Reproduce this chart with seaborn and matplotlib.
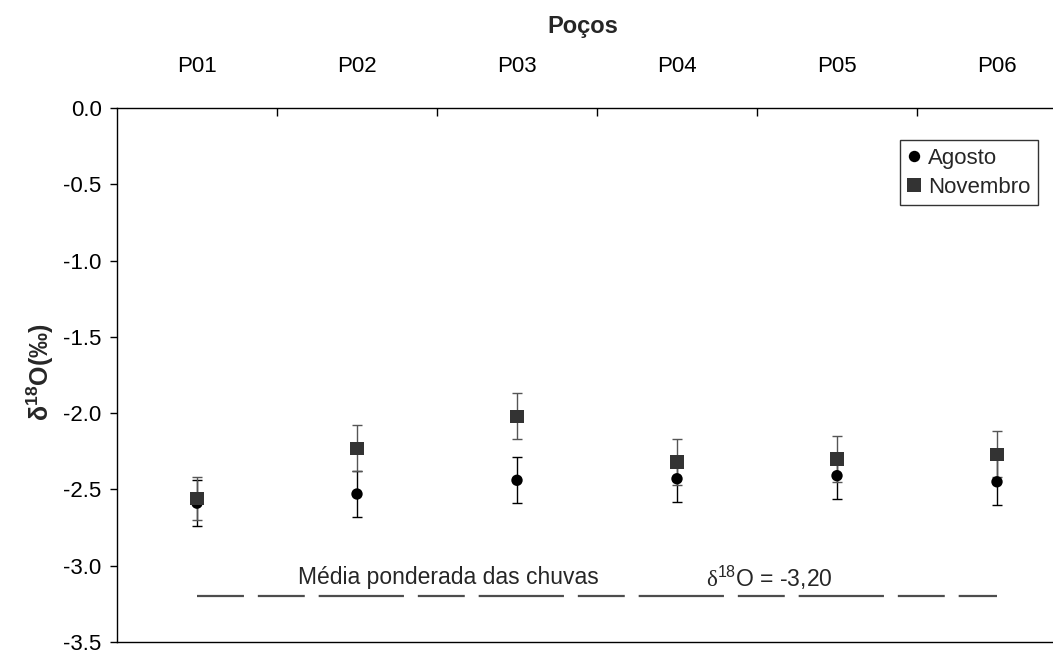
import matplotlib
matplotlib.use("Agg")
import matplotlib.pyplot as plt
from matplotlib.lines import Line2D
import seaborn as sns
import pandas as pd
import numpy as np

# ---- data ----
wells = ["P01", "P02", "P03", "P04", "P05", "P06"]
agosto = [-2.59, -2.53, -2.44, -2.43, -2.41, -2.45]
novembro = [-2.56, -2.23, -2.02, -2.32, -2.30, -2.27]
err_agosto = [0.15, 0.15, 0.15, 0.15, 0.15, 0.15]
err_novembro = [0.14, 0.15, 0.15, 0.15, 0.15, 0.15]
rain_mean = -3.20
yticks = [0.0, -0.5, -1.0, -1.5, -2.0, -2.5, -3.0, -3.5]

sns.set_theme(style="ticks")
plt.rcParams["font.family"] = ["Liberation Sans", "DejaVu Sans"]
plt.rcParams["mathtext.fontset"] = "custom"
plt.rcParams["mathtext.rm"] = "Liberation Sans"
plt.rcParams["mathtext.it"] = "Liberation Sans:italic"
plt.rcParams["mathtext.bf"] = "Liberation Sans:bold"
plt.rcParams["mathtext.cal"] = "Liberation Serif"

fig = plt.figure(figsize=(10.53, 6.5), dpi=100)
ax = fig.add_axes([117 / 1053, 8 / 650, 960 / 1053, 534 / 650])

df = pd.DataFrame({
    "Poço": wells * 2,
    "d18O": agosto + novembro,
    "Mês": ["Agosto"] * len(wells) + ["Novembro"] * len(wells),
})

# rain weighted mean line: dashed segments restarting at each well
for i in range(len(wells) - 1):
    ax.plot([wells[i], wells[i + 1]], [rain_mean, rain_mean], color="#4d4d4d",
            lw=1.6, dashes=(33.8 / 1.6, 10 / 1.6), zorder=1)

ax.errorbar(wells, agosto, yerr=err_agosto, fmt="none", ecolor="black",
            elinewidth=1, capsize=3.6, capthick=1, zorder=2)
ax.errorbar(wells, novembro, yerr=err_novembro, fmt="none", ecolor="#555555",
            elinewidth=1, capsize=3.6, capthick=1, zorder=2)

sns.scatterplot(data=df, x="Poço", y="d18O", hue="Mês", style="Mês",
                markers={"Agosto": "o", "Novembro": "s"},
                palette={"Agosto": "black", "Novembro": "#333333"},
                size="Mês", sizes={"Agosto": 67, "Novembro": 92},
                linewidth=0, edgecolor="none", ax=ax, zorder=3, legend=False)

ax.set_xlim(-0.5, 5.5)
ax.set_ylim(-3.5, 0.0)
ax.set_xlabel("")
ax.set_ylabel("")

# top categorical axis
ax.xaxis.tick_top()
ax.set_xticks(range(len(wells)))
ax.set_xticklabels(wells)
ax.set_xticks(np.arange(0.5, len(wells), 1.0), minor=True)
ax.tick_params(axis="x", which="major", length=0, pad=22, labelsize=16,
               colors="black", top=True, bottom=False)
ax.tick_params(axis="x", which="minor", direction="in", length=6, width=1,
               top=True, bottom=False, color="black")

ax.set_yticks(yticks)
ax.set_yticklabels([f"{v:.1f}" for v in yticks])
ax.tick_params(axis="y", which="major", direction="out", length=5, width=1,
               labelsize=16, colors="black", pad=6)

for s in ax.spines.values():
    s.set_visible(True)
    s.set_color("black")
    s.set_linewidth(1)

ax.text((583 - 117) / 960, (642 - 27) / 534, "Poços", transform=ax.transAxes,
        ha="center", va="center", fontsize=17, fontweight="bold")
ax.text((40 - 117) / 960, (642 - 372) / 534, r"δ$^{\mathbf{18}}$O(‰)",
        transform=ax.transAxes, rotation=90, ha="center", va="center",
        fontsize=18, fontweight="bold")

ax.text(0.63, -3.08, "Média ponderada das chuvas", ha="left", va="center",
        fontsize=16.5)
ax.text(3.18, -3.08, r"$\mathcal{\delta}^{18}$O = -3,20", ha="left",
        va="center", fontsize=16.5)

handles = [
    Line2D([], [], marker="o", ls="none", color="black", markersize=8.2,
           markeredgewidth=0),
    Line2D([], [], marker="s", ls="none", color="#333333", markersize=9.6,
           markeredgewidth=0),
]
leg = ax.legend(handles, ["Agosto", "Novembro"], loc="upper left",
                bbox_to_anchor=(900 / 1053, 1 - 140 / 650),
                bbox_transform=fig.transFigure, fontsize=16, frameon=True,
                fancybox=False, edgecolor="black", handlelength=0.6,
                handletextpad=0.3, borderpad=0.35, labelspacing=0.35,
                borderaxespad=0)
leg.get_frame().set_linewidth(1)

fig.savefig("out.png", dpi=100)
